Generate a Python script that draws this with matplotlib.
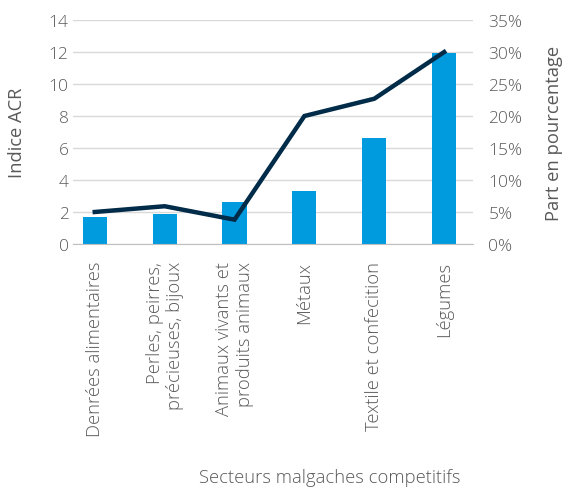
import matplotlib
matplotlib.use("Agg")
import matplotlib.pyplot as plt
from matplotlib.ticker import FuncFormatter, MultipleLocator

plt.rcParams['font.family'] = ['Open Sans', 'DejaVu Sans']
plt.rcParams['font.weight'] = 'light'

categories = [
    "Denrées alimentaires",
    "Perles, peirres,\nprécieuses, bijoux",
    "Animaux vivants et\nproduits animaux",
    "Métaux",
    "Textile et confecition",
    "Légumes",
]
acr_index = [1.7, 1.9, 2.65, 3.3, 6.6, 11.95]
share_pct = [5.0, 5.9, 3.8, 20.0, 22.7, 30.0]

text_color = "#595959"
bar_color = "#009ADE"
line_color = "#002B49"
fs = 12.5
fs_cat = 13.2

fig = plt.figure(figsize=(5.64, 4.89), dpi=100)
ax = fig.add_axes([0.129, 0.499, 0.710, 0.458])
ax2 = ax.twinx()

x = list(range(len(categories)))
ax.bar(x, acr_index, width=0.345, color=bar_color, zorder=2)
ax2.plot(x, share_pct, color=line_color, linewidth=3.2, solid_joinstyle="miter", zorder=3)

ax.set_ylim(0, 14)
ax.yaxis.set_major_locator(MultipleLocator(2))
ax2.set_ylim(0, 35)
ax2.yaxis.set_major_locator(MultipleLocator(5))
ax2.yaxis.set_major_formatter(FuncFormatter(lambda v, p: f"{v:.0f}%"))
ax.set_xlim(-0.315, 5.415)

ax.grid(axis="y", color="#d9d9d9", linewidth=1.0, zorder=0)
ax.set_axisbelow(True)
for a in (ax, ax2):
    for side in ("top", "left", "right"):
        a.spines[side].set_visible(False)
    a.spines["bottom"].set_color("#bfbfbf")
    a.tick_params(axis="both", length=0, labelsize=fs, colors=text_color)
ax2.spines["bottom"].set_visible(False)
ax.tick_params(axis="y", pad=3)
ax2.tick_params(axis="y", pad=11)

ax.set_xticks(x)
ax.set_xticklabels(categories, rotation=90, va="top", ha="center",
                   multialignment="right", fontsize=fs_cat, color=text_color,
                   linespacing=1.15)
ax.tick_params(axis="x", pad=12)

ax.set_ylabel("Indice ACR", fontsize=fs_cat, color=text_color)
ax.yaxis.set_label_coords(-0.117, 0.5)
ax2.set_ylabel("Part en pourcentage", fontsize=fs_cat, color=text_color)
ax2.yaxis.set_label_coords(1.179, 0.5)
fig.text(0.585, 0.022, "Secteurs malgaches competitifs", ha="center", va="center",
         fontsize=fs_cat, color=text_color)

fig.savefig("out.png", dpi=100)
